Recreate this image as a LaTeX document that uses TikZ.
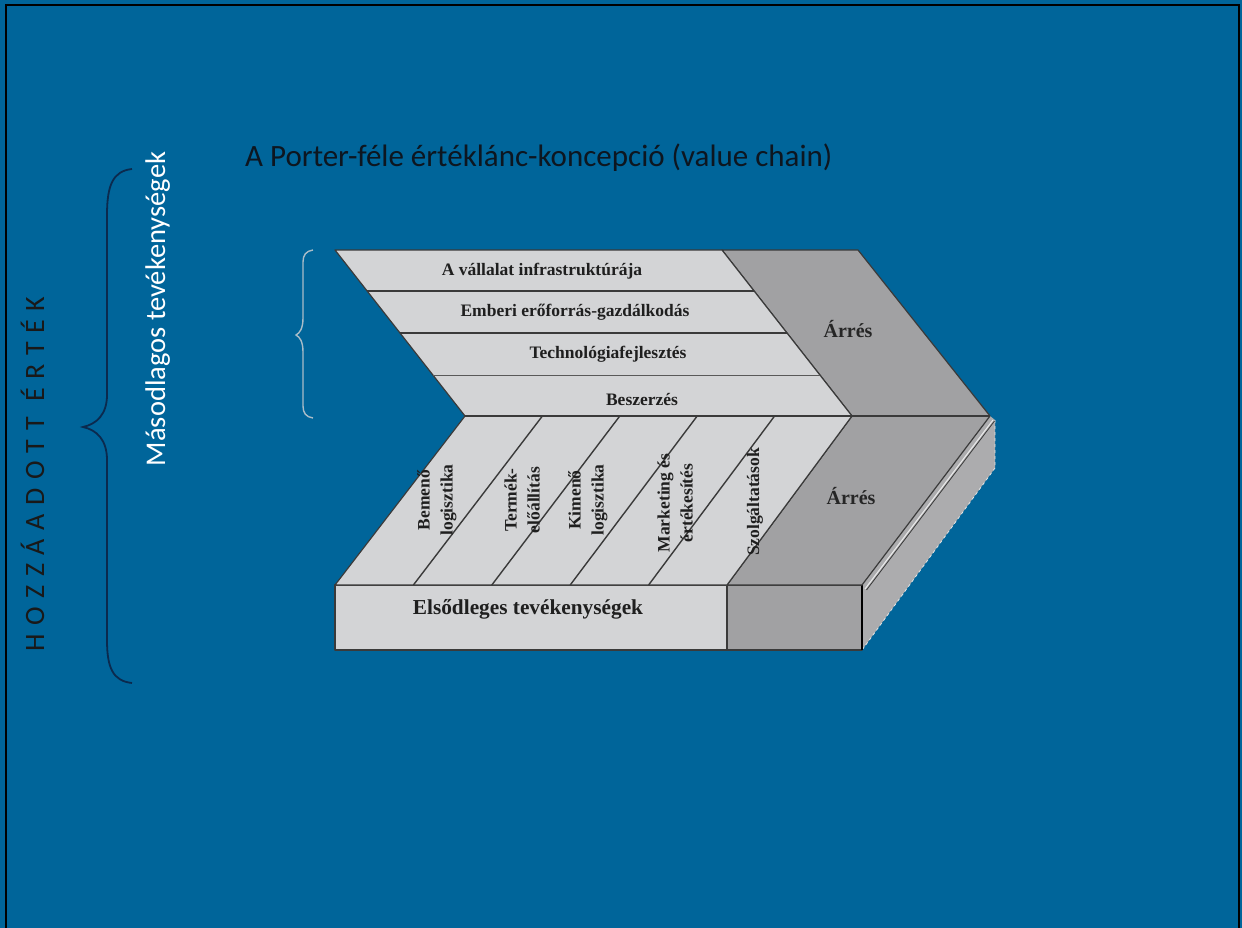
\documentclass[tikz,border=0pt]{standalone}
\usepackage{fontspec}
\setmainfont{Liberation Serif}
\newfontfamily\calib{Carlito}
\usetikzlibrary{calc}
\definecolor{bgblue}{HTML}{00659A}
\definecolor{lightface}{HTML}{D3D4D6}
\definecolor{darkface}{HTML}{A1A1A3}
\definecolor{sideface}{HTML}{ACACAE}
\definecolor{edgegray}{HTML}{3A3A3A}
\definecolor{navy}{HTML}{0B2A4E}
\definecolor{bracegray}{HTML}{A9BCC8}
\definecolor{titleblack}{HTML}{0D1620}
\begin{document}
\begin{tikzpicture}[x=1pt,y=-1pt,
  edge/.style={draw=edgegray, line width=1.2pt, line join=round},
  divline/.style={draw=edgegray, line width=1.4pt},
  rowlabel/.style={font=\bfseries\fontsize{17.5}{19}\selectfont, text=black!88, inner sep=0pt},
  collabel/.style={font=\bfseries\fontsize{17.5}{23}\selectfont, text=black!88, rotate=90, align=center, inner sep=0pt},
  marginlabel/.style={font=\bfseries\fontsize{20}{22}\selectfont, text=black!85, inner sep=0pt},
  frontlabel/.style={font=\bfseries\fontsize{21.3}{23}\selectfont, text=black!88, inner sep=0pt}]
\useasboundingbox (0,0) rectangle (1242,928);
\fill[bgblue] (0,0) rectangle (1242,928);
\draw[black, line width=2.2pt] (6,928) -- (6,5) -- (1239,5) -- (1239,928);

% title
\node[font=\calib\fontsize{31}{33}\selectfont, text=titleblack, anchor=base west, inner sep=0pt] (title) at (245,167) {A Porter-féle értéklánc-koncepció (value chain)};

% side labels
\node[font=\calib\fontsize{28}{30}\selectfont\addfontfeature{LetterSpace=31}, text=black!90, rotate=90, anchor=base, inner sep=0pt] (hozza) at (44,474) {HOZZÁADOTT ÉRTÉK};
\node[font=\calib\fontsize{28.5}{30}\selectfont, text=white, rotate=90, anchor=base, inner sep=0pt] (masod) at (165,309) {Másodlagos tevékenységek};

% big brace
\draw[navy, line width=1.8pt] (132,169) .. controls (113,171) and (107,185) .. (107,215) -- (107,395) .. controls (107,414) and (97,424) .. (83,427) .. controls (97,430) and (107,440) .. (107,460) -- (107,640) .. controls (107,668) and (113,681) .. (132,683);
% small brace
\draw[bracegray, line width=1.4pt] (313,250) .. controls (306,251) and (303,255) .. (303,262) -- (303,318) .. controls (303,328) and (300,333) .. (296,335) .. controls (300,337) and (303,342) .. (303,352) -- (303,406) .. controls (303,413) and (306,417) .. (313,418);

% key points
\coordinate (TL) at (335,250);
\coordinate (N)  at (465,416);
\coordinate (BL) at (335,585);
\coordinate (TM) at (722,250);
\coordinate (M)  at (852,416);
\coordinate (BM) at (727,585);
\coordinate (TR) at (858,250);
\coordinate (R)  at (990,416);
\coordinate (BR) at (862,585);
\coordinate (FL) at (335,650);
\coordinate (FM) at (727,650);
\coordinate (FR) at (862,650);
\coordinate (S1) at (995,420);
\coordinate (S2) at (995,468);

% side face
\fill[sideface] (BR) -- (R) -- (S1) -- (S2) -- (FR) -- cycle;
\draw[white!80!gray, line width=0.8pt, dashed] (S1) -- (S2) -- (FR);
% front faces
\filldraw[fill=lightface, edge] (BL) rectangle (FM);
\filldraw[fill=darkface, edge] (BM) rectangle (FR);
\draw[black, line width=2pt] (BR) -- (FR);
% top faces
\filldraw[fill=darkface, edge] (TM) -- (TR) -- (R) -- (BR) -- (BM) -- (M) -- cycle;
\filldraw[fill=lightface, edge] (TL) -- (TM) -- (M) -- (BM) -- (BL) -- (N) -- cycle;
\draw[edge] (M) -- (R);
\draw[white!85!gray, line width=1pt] ($(R)+(3,4)$) -- ($(BR)+(3,4)$);
\draw[edgegray, line width=0.8pt] ($(R)+(4.5,5)$) -- ($(BR)+(4.5,5)$);

% secondary rows
\draw[divline] ($(TL)!0.247!(N)$) -- ($(TM)!0.247!(M)$);
\draw[divline] ($(TL)!0.5!(N)$) -- ($(TM)!0.5!(M)$);
\draw[draw=gray!70!black, line width=1pt] ($(TL)!0.753!(N)$) -- ($(TM)!0.753!(M)$);
\draw[divline] (N) -- (M);

% primary columns
\foreach \k in {1,2,3,4}{
  \draw[divline] ($(BL)!\k/5!(BM)$) -- ($(N)!\k/5!(M)$);
}

% row labels
\node[rowlabel] (infra) at (542,271) {A vállalat infrastruktúrája};
\node[rowlabel] (hr) at (575,312) {Emberi erőforrás-gazdálkodás};
\node[rowlabel] (tech) at (608,354) {Technológiafejlesztés};
\node[rowlabel] (besz) at (642,400) {Beszerzés};

% column labels
\node[collabel] (bem) at (437,500) {Bemenő\\logisztika};
\node[collabel] (term) at (522,500) {Termék-\\előállítás};
\node[collabel] (kim) at (588,500) {Kimenő\\logisztika};
\node[collabel] (mark) at (675,503) {Marketing és\\értékesítés};
\node[collabel] (szolg) at (755,502) {Szolgáltatások};

% margin and front labels
\node[marginlabel] (arres1) at (848,329) {Árrés};
\node[marginlabel] (arres2) at (851,496) {Árrés};
\node[frontlabel] (elso) at (528,609) {Elsődleges tevékenységek};
\end{tikzpicture}
\end{document}
